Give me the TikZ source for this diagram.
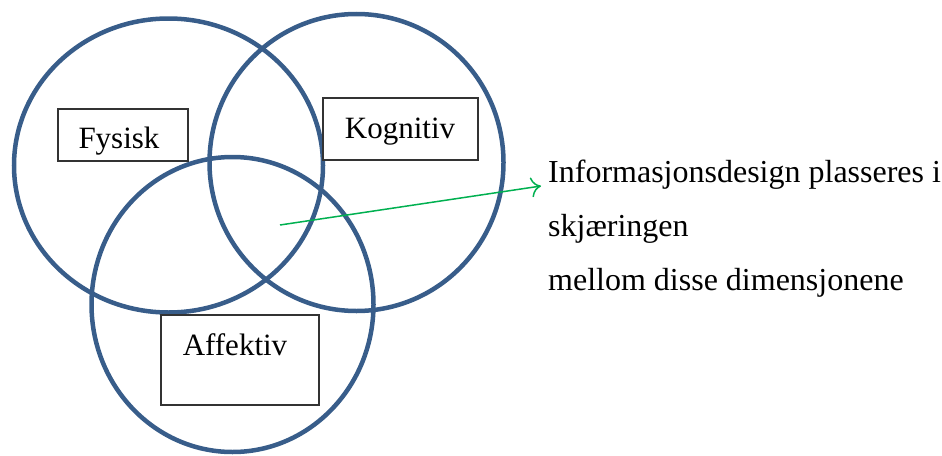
\documentclass[tikz,border=0pt]{standalone}
\usepackage{fontspec}
\setmainfont{Liberation Serif}
\usetikzlibrary{arrows.meta}
\definecolor{ringblue}{HTML}{385D8A}
\definecolor{arrowgreen}{HTML}{00B050}
\begin{document}
\begin{tikzpicture}[x=1pt,y=-1pt,
  ring/.style={draw=ringblue,line width=4.5pt},
  labelbox/.style={draw=black!80,fill=white,line width=1.4pt},
  boxtext/.style={font=\fontsize{31}{36}\selectfont,inner sep=0pt,anchor=base},
  sidetext/.style={font=\fontsize{32}{38}\selectfont,inner sep=0pt,anchor=base west},
  pointer/.style={draw=arrowgreen,line width=1.5pt,-{To[length=10pt,width=20pt]}}]
\useasboundingbox (0,0) rectangle (942,455);
% the three dimensions
\draw[ring] (168.5,165.5) ellipse [x radius=154.5, y radius=147];
\draw[ring] (356.5,162.5) ellipse [x radius=147, y radius=148.5];
\draw[ring] (232.5,304.5) ellipse [x radius=141, y radius=147.5];
% labels in boxes
\draw[labelbox] (58,109) rectangle (188,161);
\node[boxtext] (fysisk) at (119,148) {Fysisk};
\draw[labelbox] (323,98) rectangle (478,160);
\node[boxtext] (kognitiv) at (400,138) {Kognitiv};
\draw[labelbox] (161,315) rectangle (319,405);
\node[boxtext] (affektiv) at (235,355) {Affektiv};
% explanation
\node[sidetext] (line1) at (548,182) {Informasjonsdesign plasseres i};
\node[sidetext] (line2) at (548,236) {skjæringen};
\node[sidetext] (line3) at (548,290) {mellom disse dimensjonene};
\coordinate (centre) at (280,225);
\coordinate (tip) at (541,186);
\draw[pointer] (centre) -- (tip);
\end{tikzpicture}
\end{document}
